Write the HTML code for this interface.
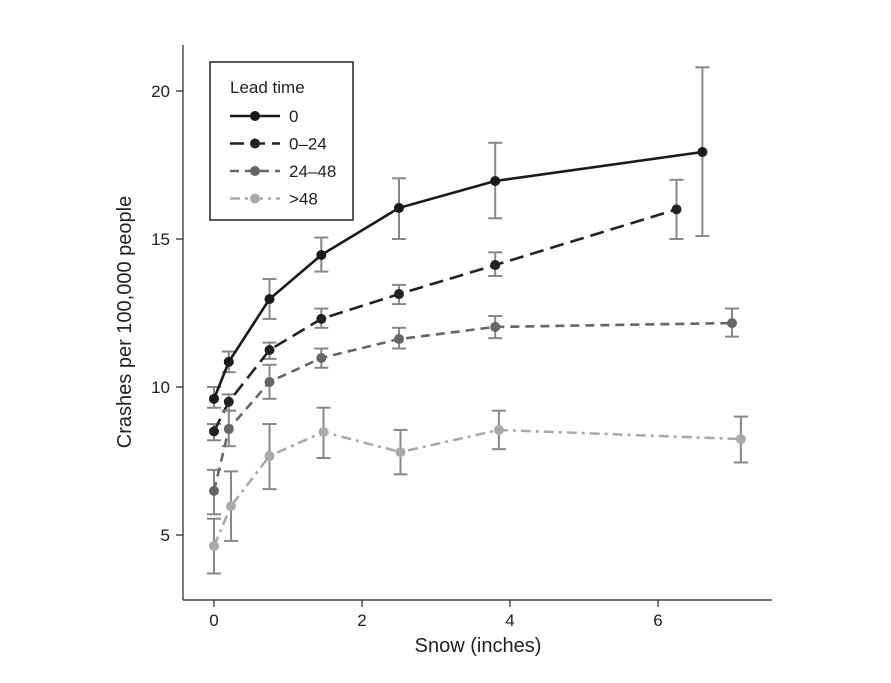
<!DOCTYPE html>
<html><head><meta charset="utf-8"><style>
body{margin:0;background:#fff}
svg{display:block;font-family:"Liberation Sans",sans-serif}
</style></head><body>
<svg id="chart" width="891" height="683"></svg>
<script>
const xs0=[0,0.2,0.75,1.45,2.5,3.8,6.6];
const ys0=[9.6,10.85,12.97,14.46,16.05,16.96,17.94];
const lo0=[9.3,10.5,12.3,13.9,15.0,15.7,15.1];
const hi0=[10.0,11.2,13.65,15.05,17.05,18.25,20.8];
const xs1=[0,0.2,0.75,1.45,2.5,3.8,6.25];
const ys1=[8.5,9.5,11.25,12.3,13.14,14.12,16.0];
const lo1=[8.2,9.2,10.95,12.0,12.8,13.75,15.0];
const hi1=[8.75,9.75,11.5,12.65,13.45,14.55,17.0];
const xs2=[0,0.2,0.75,1.45,2.5,3.8,7.0];
const ys2=[6.49,8.58,10.17,10.98,11.62,12.03,12.16];
const lo2=[5.7,8.0,9.6,10.65,11.3,11.65,11.7];
const hi2=[7.2,9.2,10.75,11.3,12.0,12.4,12.65];
const xs3=[0,0.23,0.75,1.48,2.52,3.85,7.12];
const ys3=[4.63,5.98,7.67,8.48,7.8,8.55,8.24];
const lo3=[3.7,4.8,6.55,7.6,7.05,7.9,7.45];
const hi3=[5.55,7.15,8.75,9.3,8.55,9.2,9.0];
const xTicks=[0,2,4,6];
const yTicks=[5,10,15,20];
const names=["0","0\u201324","24\u201348",">48"];

const NS="http://www.w3.org/2000/svg";
const svg=document.getElementById("chart");
const X=v=>214+v*74;
const Y=v=>535-(v-5)*29.6;
function el(t,a,p){const e=document.createElementNS(NS,t);for(const k in a)e.setAttribute(k,a[k]);(p||svg).appendChild(e);return e;}

let ax=el("line",{x1:183,y1:45,x2:183,y2:600,stroke:"#222","stroke-width":1.2});


ax=el("line",{x1:183,y1:600,x2:772,y2:600,stroke:"#222","stroke-width":1.2});


xTicks.forEach(t=>{
  el("line",{x1:X(t),y1:600,x2:X(t),y2:607,stroke:"#222","stroke-width":1.2});
  const tx=el("text",{x:X(t),y:626,"text-anchor":"middle","font-size":17,fill:"#222"});tx.textContent=t;
  
  
});
yTicks.forEach(t=>{
  el("line",{x1:176,y1:Y(t),x2:183,y2:Y(t),stroke:"#222","stroke-width":1.2});
  const tx=el("text",{x:170,y:Y(t)+6,"text-anchor":"end","font-size":17,fill:"#222"});tx.textContent=t;
  
  
});
let t=el("text",{x:478,y:652,"text-anchor":"middle","font-size":20,fill:"#222"});t.textContent="Snow (inches)";


t=el("text",{x:0,y:0,"text-anchor":"middle","font-size":20,fill:"#222",transform:"translate(131,322) rotate(-90)"});t.textContent="Crashes per 100,000 people";



const series=[[xs0,ys0,lo0,hi0],[xs1,ys1,lo1,hi1],[xs2,ys2,lo2,hi2],[xs3,ys3,lo3,hi3]];
const cols=["#1a1a1a","#222","#666","#aaa"];
const dash=["","14,7","9,6","10,5,3,5"];
series.forEach((s,i)=>{
  const g=el("g",{});
  
  
  s[0].forEach((x,j)=>{
    const eg=el("g",{stroke:"#888","stroke-width":2},g);
    
    
    el("line",{x1:X(x),x2:X(x),y1:Y(s[2][j]),y2:Y(s[3][j])},eg);
    el("line",{x1:X(x)-7,x2:X(x)+7,y1:Y(s[2][j]),y2:Y(s[2][j])},eg);
    el("line",{x1:X(x)-7,x2:X(x)+7,y1:Y(s[3][j]),y2:Y(s[3][j])},eg);
  });
  const pts=s[0].map((x,j)=>X(x)+","+Y(s[1][j])).join(" ");
  const pl=el("polyline",{points:pts,fill:"none",stroke:cols[i],"stroke-width":2.6,"stroke-dasharray":dash[i]},g);
  
  
  s[0].forEach((x,j)=>{
    const c=el("circle",{cx:X(x),cy:Y(s[1][j]),r:5,fill:cols[i]},g);
    
    
  });
});

const lg=el("g",{});


el("rect",{x:210,y:62,width:143,height:158,fill:"#fff",stroke:"#222","stroke-width":1.5},lg);
t=el("text",{x:230,y:93,"font-size":17,fill:"#222"},lg);t.textContent="Lead time";


names.forEach((n,i)=>{
  const y=116+i*27.5;
  const e=el("g",{},lg);
  
  
  el("line",{x1:230,x2:280,y1:y,y2:y,stroke:cols[i],"stroke-width":2.6,"stroke-dasharray":dash[i]},e);
  el("circle",{cx:255,cy:y,r:5,fill:cols[i]},e);
  const tx=el("text",{x:289,y:y+6,"font-size":17,fill:"#222"},e);tx.textContent=n;
});
</script>
</body></html>
